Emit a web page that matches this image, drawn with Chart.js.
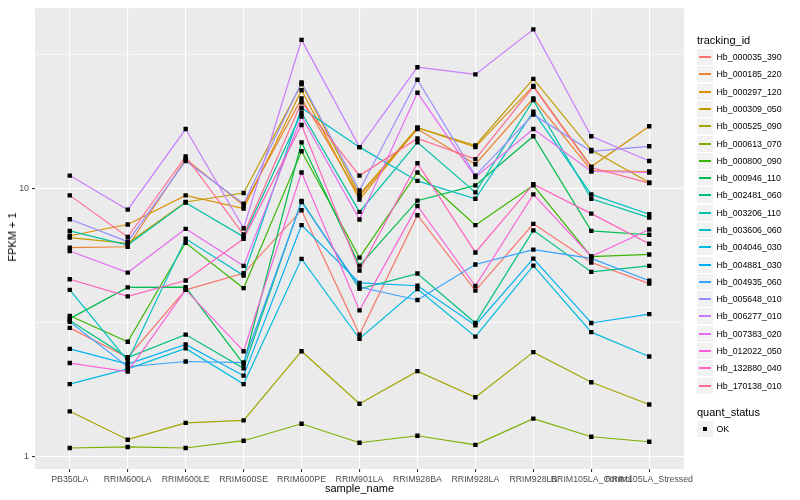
<!DOCTYPE html>
<html lang="en">
  <head>
    <meta charset="UTF-8" />
    <title>FPKM by sample</title>
    <script src="https://cdn.jsdelivr.net/npm/chart.js"></script>
    <style>
      body { margin: 0; background: #fff; font-family: "Liberation Sans", Arial, sans-serif; }
      #wrap { position: relative; width: 800px; height: 500px; }
      #chart { position: absolute; left: 0; top: 0; }
      .abs { position: absolute; white-space: nowrap; line-height: 1; font-weight: 400; }
      .title { font-size: 11px; color: #000; }
      .key { position: absolute; background: #F2F2F2; }
      .key .ln { position: absolute; height: 2px; }
      .lab { font-size: 8.8px; color: #000; }
      #ytitle { left: 7px; top: 237px; transform-origin: 0 0; transform: rotate(-90deg) translate(-50%, 0); }
    </style>
  </head>
  <body>
    <div id="wrap">
      <canvas id="chart" width="800" height="500"></canvas>
      <div class="abs title" style="left:359.5px; top:483px; transform:translateX(-50%);">sample_name</div>
      <div id="ytitle" class="abs title">FPKM + 1</div>
      <div id="legend"></div>
    </div>

    <script>
      // samples on the x axis
      var categories = ["PB350LA", "RRIM600LA", "RRIM600LE", "RRIM600SE", "RRIM600PE", "RRIM901LA",
        "RRIM928BA", "RRIM928LA", "RRIM928LB", "RRIM105LA_Control", "RRIM105LA_Stressed"];

      var trackingIds = ["Hb_000035_390", "Hb_000185_220", "Hb_000297_120", "Hb_000309_050",
        "Hb_000525_090", "Hb_000613_070", "Hb_000800_090", "Hb_000946_110", "Hb_002481_060",
        "Hb_003206_110", "Hb_003606_060", "Hb_004046_030", "Hb_004881_030", "Hb_004935_060",
        "Hb_005648_010", "Hb_006277_010", "Hb_007383_020", "Hb_012022_050", "Hb_132880_040",
        "Hb_170138_010"];

      var trackColors = ["#F8766D", "#EA8331", "#D89000", "#C09B00", "#A3A500", "#7CAE00", "#39B600",
        "#00BB4E", "#00BF7D", "#00C1A3", "#00BFC4", "#00BAE0", "#00B0F6", "#35A2FF", "#9590FF",
        "#C77CFF", "#E76BF3", "#FA62DB", "#FF62BC", "#FF6C91"];

      // FPKM + 1, one value per sample
      var hb_000035_390 = [3.03, 2.35, 4.20, 4.84, 8.32, 2.86, 7.97, 4.17, 7.40, 5.31, 4.43];
      var hb_000185_220 = [6.03, 6.08, 12.9, 8.68, 21.7, 9.40, 16.7, 12.35, 21.7, 11.7, 11.6];
      var hb_000297_120 = [6.68, 7.36, 9.45, 8.43, 23.3, 9.11, 16.9, 14.3, 24.2, 12.1, 17.1];
      var hb_000309_050 = [6.58, 6.26, 8.93, 9.64, 24.6, 9.53, 16.9, 14.5, 25.7, 13.95, 10.56];
      var hb_000525_090 = [1.48, 1.16, 1.34, 1.37, 2.48, 1.58, 2.09, 1.67, 2.46, 1.90, 1.57];
      var hb_000613_070 = [1.08, 1.09, 1.08, 1.15, 1.33, 1.13, 1.20, 1.11, 1.39, 1.19, 1.14];
      var hb_000800_090 = [3.36, 2.69, 6.29, 4.26, 13.8, 5.54, 11.5, 7.32, 10.3, 5.59, 5.69];
      var hb_000946_110 = [3.28, 4.29, 4.30, 2.22, 14.9, 5.17, 9.03, 10.3, 15.7, 6.97, 6.74];
      var hb_002481_060 = [3.23, 2.35, 2.86, 2.14, 9.01, 4.24, 4.83, 3.16, 7.00, 4.90, 5.16];
      var hb_003206_110 = [6.97, 6.17, 8.88, 6.62, 19.2, 8.20, 14.9, 9.70, 21.4, 9.18, 7.81];
      var hb_003606_060 = [4.20, 2.28, 6.51, 4.75, 20.0, 14.3, 10.7, 9.18, 19.4, 9.53, 8.04];
      var hb_004046_030 = [1.87, 2.13, 2.54, 1.87, 5.48, 2.76, 4.23, 2.81, 5.17, 2.92, 2.37];
      var hb_004881_030 = [2.53, 2.22, 2.63, 2.01, 7.32, 4.46, 4.35, 3.10, 5.49, 3.16, 3.41];
      var hb_004935_060 = [3.19, 2.17, 2.27, 2.25, 8.93, 4.30, 3.85, 5.22, 5.93, 5.50, 4.54];
      var hb_005648_010 = [7.70, 6.35, 12.7, 8.80, 24.9, 9.86, 25.5, 11.2, 18.9, 13.8, 14.4];
      var hb_006277_010 = [11.2, 8.36, 16.7, 7.13, 35.9, 14.3, 28.4, 26.7, 39.3, 15.7, 12.7];
      var hb_007383_020 = [5.86, 4.87, 7.09, 5.16, 18.6, 7.68, 22.8, 11.05, 16.7, 11.6, 11.5];
      var hb_012022_050 = [2.24, 2.08, 4.20, 2.48, 11.5, 3.52, 8.63, 4.34, 9.53, 5.59, 7.05];
      var hb_132880_040 = [4.60, 3.97, 4.55, 6.51, 17.3, 4.96, 12.45, 5.79, 10.4, 8.08, 6.24];
      var hb_170138_010 = [9.45, 6.61, 13.2, 6.75, 21.0, 11.2, 15.4, 12.9, 24.0, 12.0, 10.5];

      var seriesValues = [hb_000035_390, hb_000185_220, hb_000297_120, hb_000309_050, hb_000525_090,
        hb_000613_070, hb_000800_090, hb_000946_110, hb_002481_060, hb_003206_110, hb_003606_060,
        hb_004046_030, hb_004881_030, hb_004935_060, hb_005648_010, hb_006277_010, hb_007383_020,
        hb_012022_050, hb_132880_040, hb_170138_010];

      var yTicks = [1, 3.1623, 10, 31.623];
      var yLabels = { 1: "1", 10: "10" };

      var FONT = "'Liberation Sans', Arial, Helvetica, sans-serif";
      Chart.defaults.font.family = FONT;

      // line datasets, later ids drawn on top like ggplot
      var datasets = seriesValues.map(function (vals, i) {
        return {
          label: trackingIds[i],
          data: vals.map(function (v, j) { return { x: j, y: v }; }),
          borderColor: trackColors[i],
          backgroundColor: trackColors[i],
          borderWidth: 1.2,
          tension: 0,
          pointRadius: 0,
          fill: false,
          order: 40 - i
        };
      });

      var allPoints = [];
      seriesValues.forEach(function (vals) {
        vals.forEach(function (v, j) { allPoints.push({ x: j, y: v }); });
      });
      datasets.push({
        label: "OK",
        data: allPoints,
        showLine: false,
        pointStyle: "rect",
        pointRadius: 3.1,
        pointBackgroundColor: "#000",
        pointBorderWidth: 0,
        order: 0
      });

      var panelBg = {
        id: "panelBg",
        beforeDraw: function (chart) {
          var a = chart.chartArea;
          var c = chart.ctx;
          c.save();
          c.fillStyle = "#EBEBEB";
          c.fillRect(a.left, a.top, a.right - a.left, a.bottom - a.top);
          c.restore();
        }
      };

      new Chart(document.getElementById("chart"), {
        type: "line",
        data: { datasets: datasets },
        options: {
          responsive: false,
          animation: false,
          layout: { padding: { top: 5, right: 116, left: 0, bottom: 0 } },
          plugins: { legend: { display: false }, tooltip: { enabled: false } },
          scales: {
            x: {
              type: "linear",
              min: -0.6,
              max: 10.6,
              afterBuildTicks: function (s) {
                s.ticks = categories.map(function (c, i) { return { value: i }; });
              },
              afterFit: function (s) { s.height = 31; },
              ticks: {
                callback: function (v) { return categories[v]; },
                autoSkip: false,
                maxRotation: 0,
                minRotation: 0,
                color: "#4D4D4D",
                font: { size: 8.8 },
                padding: 2
              },
              grid: { color: "#FFFFFF", lineWidth: 1.1, tickColor: "#333333", tickLength: 3, tickWidth: 1.1 },
              border: { display: false }
            },
            y: {
              type: "logarithmic",
              min: 0.902,
              max: 47.1,
              afterBuildTicks: function (s) {
                s.ticks = yTicks.map(function (v) { return { value: v, major: !!yLabels[v] }; });
              },
              afterFit: function (s) { s.width = 35; },
              ticks: {
                callback: function (v) { return yLabels[v] || ""; },
                color: "#4D4D4D",
                font: { size: 8.8 },
                padding: 3
              },
              grid: {
                color: "#FFFFFF",
                lineWidth: function (ctx) { return ctx.tick && yLabels[ctx.tick.value] ? 1.1 : 0.55; },
                tickColor: function (ctx) { return ctx.tick && yLabels[ctx.tick.value] ? "#333333" : "rgba(0,0,0,0)"; },
                tickLength: 3,
                tickWidth: 1.1
              },
              border: { display: false }
            }
          }
        },
        plugins: [panelBg]
      });

      // ggplot style legend
      var legend = document.getElementById("legend");
      var html = '<div class="abs title" style="left:697px; top:34.5px;">tracking_id</div>';
      trackingIds.forEach(function (id, i) {
        var top = Math.round(57.3 + 17.28 * i - 8.1);
        html += '<div class="key" style="left:697px; top:' + top + 'px; width:16px; height:16px;">' +
          '<div class="ln" style="left:2px; width:12px; top:7px; background:' + trackColors[i] + ';"></div></div>';
        html += '<div class="abs lab" style="left:716.5px; top:' + (top + 3.5) + 'px;">' + id + '</div>';
      });
      html += '<div class="abs title" style="left:697px; top:407px;">quant_status</div>';
      html += '<div class="key" style="left:697px; top:421px; width:16px; height:16px;">' +
        '<div style="position:absolute; left:6px; top:6px; width:4px; height:4px; background:#000;"></div></div>';
      html += '<div class="abs lab" style="left:716.5px; top:424.5px;">OK</div>';
      legend.innerHTML = html;
    </script>
  </body>
</html>
